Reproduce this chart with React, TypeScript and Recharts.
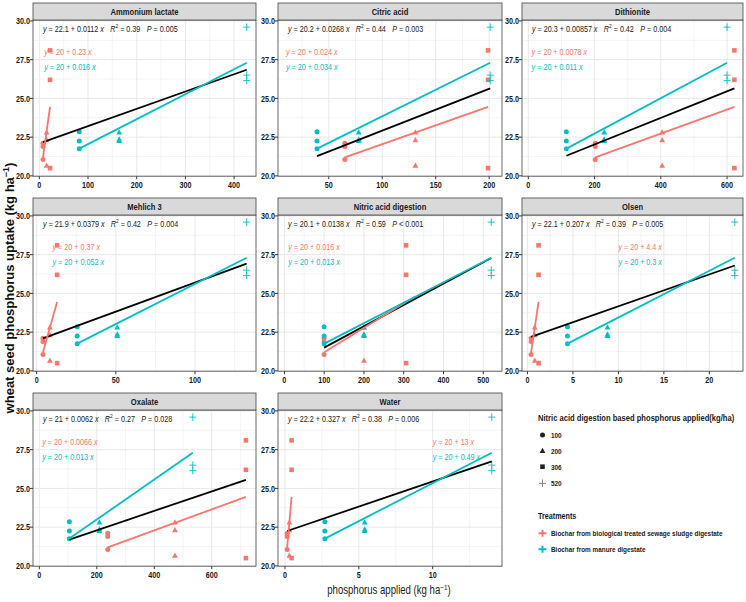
import React from "react";
import { ScatterChart, Scatter, XAxis, YAxis, CartesianGrid } from "recharts";

const RED = "#F8766D";
const CYAN = "#00BFC4";
const FONT = "'Liberation Sans', Arial, sans-serif";

const methods = [
  "Ammonium lactate",
  "Citric acid",
  "Dithionite",
  "Mehlich 3",
  "Nitric acid digestion",
  "Olsen",
  "Oxalate",
  "Water",
];

// wheat seed P uptake, three replicates per rate (same plants in every panel)
const sludgeY100 = [21.05, 21.9, 22.1];
const sludgeY200 = [22.8, 22.3, 20.65];
const sludgeY306 = [28.1, 26.2, 20.5];
const manureY100 = [22.85, 22.25, 21.75];
const manureY200 = [22.8, 22.35, 22.25];
const manureY520 = [29.6, 26.5, 26.15];

// P applied by extraction method: sludge at 100/200/306, manure at 100/200/520
const sludgeX = [
  [7.5, 15, 22],
  [65, 131, 199],
  [202, 404, 622],
  [4, 8.4, 12.9],
  [100, 200, 306],
  [0.4, 0.8, 1.22],
  [238, 472, 719],
  [0.15, 0.3, 0.45],
];
const manureX = [
  [82, 164, 426],
  [39, 78, 201],
  [115, 229, 600],
  [25.6, 50.9, 132.6],
  [100, 200, 520],
  [4.4, 8.8, 22.8],
  [104.5, 209, 534],
  [2.7, 5.4, 14],
];

// fitted lines, y at lowest and highest x
const sludgeFit = [21.2, 24.45];
const manureFit = [21.76, 27.3];
const overallFit = [
  [22.18, 26.85],
  [21.27, 25.65],
  [21.3, 25.65],
  [22.1, 26.92],
  [21.5, 27.28],
  [22.2, 26.8],
  [21.7, 25.55],
  [22.25, 26.75],
];

// equation labels
const overallA = ["22.1", "20.2", "20.3", "21.9", "20.1", "22.1", "21", "22.2"];
const overallB = ["0.0112", "0.0268", "0.00857", "0.0379", "0.0138", "0.207", "0.0062", "0.327"];
const overallR2 = ["0.39", "0.44", "0.42", "0.42", "0.59", "0.39", "0.27", "0.38"];
const overallP = ["= 0.005", "= 0.003", "= 0.004", "= 0.004", "< 0.001", "= 0.005", "= 0.028", "= 0.006"];
const sludgeSlope = ["0.23", "0.024", "0.0078", "0.37", "0.016", "4.4", "0.0066", "13"];
const manureSlope = ["0.016", "0.034", "0.011", "0.052", "0.013", "0.3", "0.013", "0.49"];
const labelX = 10;
const labelY = [28, 27];

const xDomains = [
  [-13, 445],
  [2.5, 212],
  [-19, 648],
  [-2.3, 138.5],
  [-16, 547],
  [-0.6, 23.7],
  [-22, 754],
  [-0.47, 14.69],
];
const xTicks = [
  [0, 100, 200, 300, 400],
  [50, 100, 150, 200],
  [0, 200, 400, 600],
  [0, 50, 100],
  [0, 100, 200, 300, 400, 500],
  [0, 5, 10, 15, 20],
  [0, 200, 400, 600],
  [0, 5, 10],
];
const xMinor = [
  [50, 150, 250, 350],
  [25, 75, 125, 175],
  [100, 300, 500],
  [25, 75, 125],
  [50, 150, 250, 350, 450],
  [2.5, 7.5, 12.5, 17.5, 22.5],
  [100, 300, 500, 700],
  [2.5, 7.5, 12.5],
];
const yTicks = [20, 22.5, 25, 27.5, 30];
const yMinor = [21.25, 23.75, 26.25, 28.75];
const Y_DOMAIN = [19.98, 30.06];

const rateLabels = ["100", "200", "306", "520"];
const treatments = ["Biochar from  biological treated sewage sludge digestate", "Biochar from manure digestate"];

// layout
const PL = [33, 278, 522];
const PW = [223, 224, 221];
const PT = [20, 215, 410];
const PH = 156.2;
const YAX = 30;
const XAX = 18;
const TOP = 8;

type TProps = {
  x: number;
  y: number;
  size: number;
  bold?: boolean;
  anchor?: "start" | "middle" | "end";
  fill?: string;
  sx?: number;
  children: React.ReactNode;
};

const T = ({ x, y, size, bold, anchor = "start", fill = "#1a1a1a", sx = 0.8, children }: TProps) => (
  <text
    transform={`translate(${x},${y}) scale(${sx},1)`}
    fontSize={size}
    fontWeight={bold ? "bold" : "normal"}
    textAnchor={anchor}
    fill={fill}
    fontFamily={FONT}
  >
    {children}
  </text>
);

const dot = (c: string) => (p: any) => <circle cx={p.cx} cy={p.cy} r={2.5} fill={c} />;
const tri = (c: string) => (p: any) => (
  <polygon points={`${p.cx},${p.cy - 3.2} ${p.cx - 2.9},${p.cy + 2} ${p.cx + 2.9},${p.cy + 2}`} fill={c} />
);
const sq = (c: string) => (p: any) => <rect x={p.cx - 2.3} y={p.cy - 2.3} width={4.6} height={4.6} fill={c} />;
const plus = (c: string) => (p: any) => (
  <path d={`M${p.cx - 3.5},${p.cy}H${p.cx + 3.5}M${p.cx},${p.cy - 3.8}V${p.cy + 3.8}`} stroke={c} strokeWidth={0.9} />
);
const blank = () => <g />;
const eqLabel = (slope: string, c: string) => (p: any) => (
  <T x={p.cx} y={p.cy + 3} size={9} fill={c}>
    <tspan fontStyle="italic">y</tspan>
    {` = 20 + ${slope} `}
    <tspan fontStyle="italic">x</tspan>
  </T>
);

const xTick = (p: any) => (
  <T x={p.x} y={p.y + 7} size={9} bold anchor="middle">
    {String(p.payload.value)}
  </T>
);
const yTick = (p: any) => (
  <T x={p.x} y={p.y + 3.2} size={9} bold anchor="end">
    {Number(p.payload.value).toFixed(1)}
  </T>
);

function Panel({ i }: { i: number }) {
  const col = i % 3;
  const row = Math.floor(i / 3);
  const w = PW[col] + YAX + 2;
  const h = PH + XAX + TOP;
  const sx = sludgeX[i];
  const mx = manureX[i];
  const pts = (xs: number[], ys: number[], k: number) => ys.map((y) => ({ x: xs[k], y }));
  const allX = [...sx, ...mx];
  const lo = Math.min(...allX);
  const hi = Math.max(...allX);
  const fitLine = { strokeWidth: 1.8 };

  return (
    <div style={{ position: "absolute", left: PL[col] - YAX, top: PT[row] - TOP, width: w, height: h }}>
      <ScatterChart width={w} height={h} margin={{ top: TOP, right: 2, bottom: 0, left: 0 }}>
        <CartesianGrid stroke="#EDEDED" strokeWidth={0.6} verticalValues={xMinor[i]} horizontalValues={yMinor} />
        <CartesianGrid stroke="#E8E8E8" strokeWidth={1} verticalValues={xTicks[i]} horizontalValues={yTicks} />
        <XAxis
          type="number"
          dataKey="x"
          domain={xDomains[i]}
          allowDataOverflow
          ticks={xTicks[i]}
          interval={0}
          height={XAX}
          axisLine={false}
          tickSize={3}
          tickMargin={2}
          tickLine={{ stroke: "#333" }}
          tick={xTick}
        />
        <YAxis
          type="number"
          dataKey="y"
          domain={Y_DOMAIN}
          allowDataOverflow
          ticks={yTicks}
          interval={0}
          width={YAX}
          axisLine={false}
          tickSize={3}
          tickMargin={0}
          tickLine={{ stroke: "#333" }}
          tick={yTick}
        />
        <Scatter data={pts(sx, sludgeY100, 0)} shape={dot(RED)} isAnimationActive={false} />
        <Scatter data={pts(sx, sludgeY200, 1)} shape={tri(RED)} isAnimationActive={false} />
        <Scatter data={pts(sx, sludgeY306, 2)} shape={sq(RED)} isAnimationActive={false} />
        <Scatter data={pts(mx, manureY100, 0)} shape={dot(CYAN)} isAnimationActive={false} />
        <Scatter data={pts(mx, manureY200, 1)} shape={tri(CYAN)} isAnimationActive={false} />
        <Scatter data={pts(mx, manureY520, 2)} shape={plus(CYAN)} isAnimationActive={false} />
        <Scatter
          data={[{ x: lo, y: overallFit[i][0] }, { x: hi, y: overallFit[i][1] }]}
          line={{ ...fitLine, stroke: "#000" }}
          shape={blank}
          isAnimationActive={false}
        />
        <Scatter
          data={[{ x: sx[0], y: sludgeFit[0] }, { x: sx[2], y: sludgeFit[1] }]}
          line={{ ...fitLine, stroke: RED }}
          shape={blank}
          isAnimationActive={false}
        />
        <Scatter
          data={[{ x: mx[0], y: manureFit[0] }, { x: mx[2], y: manureFit[1] }]}
          line={{ ...fitLine, stroke: CYAN }}
          shape={blank}
          isAnimationActive={false}
        />
        <Scatter data={[{ x: labelX, y: labelY[0] }]} shape={eqLabel(sludgeSlope[i], RED)} isAnimationActive={false} />
        <Scatter data={[{ x: labelX, y: labelY[1] }]} shape={eqLabel(manureSlope[i], CYAN)} isAnimationActive={false} />
      </ScatterChart>
    </div>
  );
}

export default function App() {
  return (
    <div
      style={{
        position: "absolute",
        left: 0,
        top: 0,
        width: 746,
        height: 602,
        background: "#fff",
        fontFamily: FONT,
      }}
    >
      {methods.map((m, i) => (
        <Panel key={m} i={i} />
      ))}

      <svg width={746} height={602} style={{ position: "absolute", left: 0, top: 0, pointerEvents: "none" }}>
        {methods.map((m, i) => {
          const col = i % 3;
          const row = Math.floor(i / 3);
          const x0 = PL[col];
          const y0 = PT[row];
          return (
            <g key={m}>
              <rect x={x0} y={y0} width={PW[col]} height={PH} fill="none" stroke="#444" strokeWidth={0.8} />
              <rect x={x0} y={y0 - 17} width={PW[col]} height={17} fill="#D9D9D9" stroke="#444" strokeWidth={0.8} />
              <T x={x0 + PW[col] / 2} y={y0 - 5} size={9.5} bold anchor="middle">
                {m}
              </T>
              <T x={x0 + 10} y={y0 + 11.5} size={9}>
                <tspan fontStyle="italic">y</tspan>
                {` = ${overallA[i]} + ${overallB[i]} `}
                <tspan fontStyle="italic">x</tspan>
                <tspan dx={8} fontStyle="italic">R</tspan>
                <tspan dy={-3.5} fontSize={6}>2</tspan>
                <tspan dy={3.5}>{` = ${overallR2[i]}`}</tspan>
                <tspan dx={8} fontStyle="italic">P</tspan>
                {` ${overallP[i]}`}
              </T>
            </g>
          );
        })}

        {/* axis titles */}
        <g transform="translate(14,288) rotate(-90)">
          <text fontSize={13} fontWeight="bold" textAnchor="middle" fill="#111" fontFamily={FONT}>
            wheat seed phosphorus uptake (kg ha
            <tspan dy={-5} fontSize={9}>−1</tspan>
            <tspan dy={5}>)</tspan>
          </text>
        </g>
        <T x={389} y={594} size={12} anchor="middle" fill="#222">
          phosphorus applied (kg ha
          <tspan dy={-4.5} fontSize={8}>−1</tspan>
          <tspan dy={4.5}>)</tspan>
        </T>

        {/* legend */}
        <T x={538} y={421} size={9.5} bold>
          Nitric acid digestion based  phosphorus applied(kg/ha)
        </T>
        <circle cx={542.5} cy={435} r={2.5} fill="#222" />
        <polygon points="542.5,447.8 539.6,453 545.4,453" fill="#222" />
        <rect x={540.2} y={464.4} width={4.6} height={4.6} fill="#222" />
        <path d="M539,483.3H546M542.5,479.5V487.1" stroke="#777" strokeWidth={0.9} />
        {rateLabels.map((r, k) => (
          <T key={r} x={551} y={[435, 451, 466.7, 483.3][k] + 3} size={8} bold>
            {r}
          </T>
        ))}
        <T x={538} y={519} size={9} bold>
          Treatments
        </T>
        {[RED, CYAN].map((c, k) => {
          const cy = [533.3, 549.3][k];
          return (
            <g key={c}>
              <path d={`M538.5,${cy}H546.5M542.5,${cy - 3.5}V${cy + 3.5}`} stroke={c} strokeWidth={2} />
              <T x={551} y={cy + 3} size={8} bold>
                {treatments[k]}
              </T>
            </g>
          );
        })}
      </svg>
    </div>
  );
}
